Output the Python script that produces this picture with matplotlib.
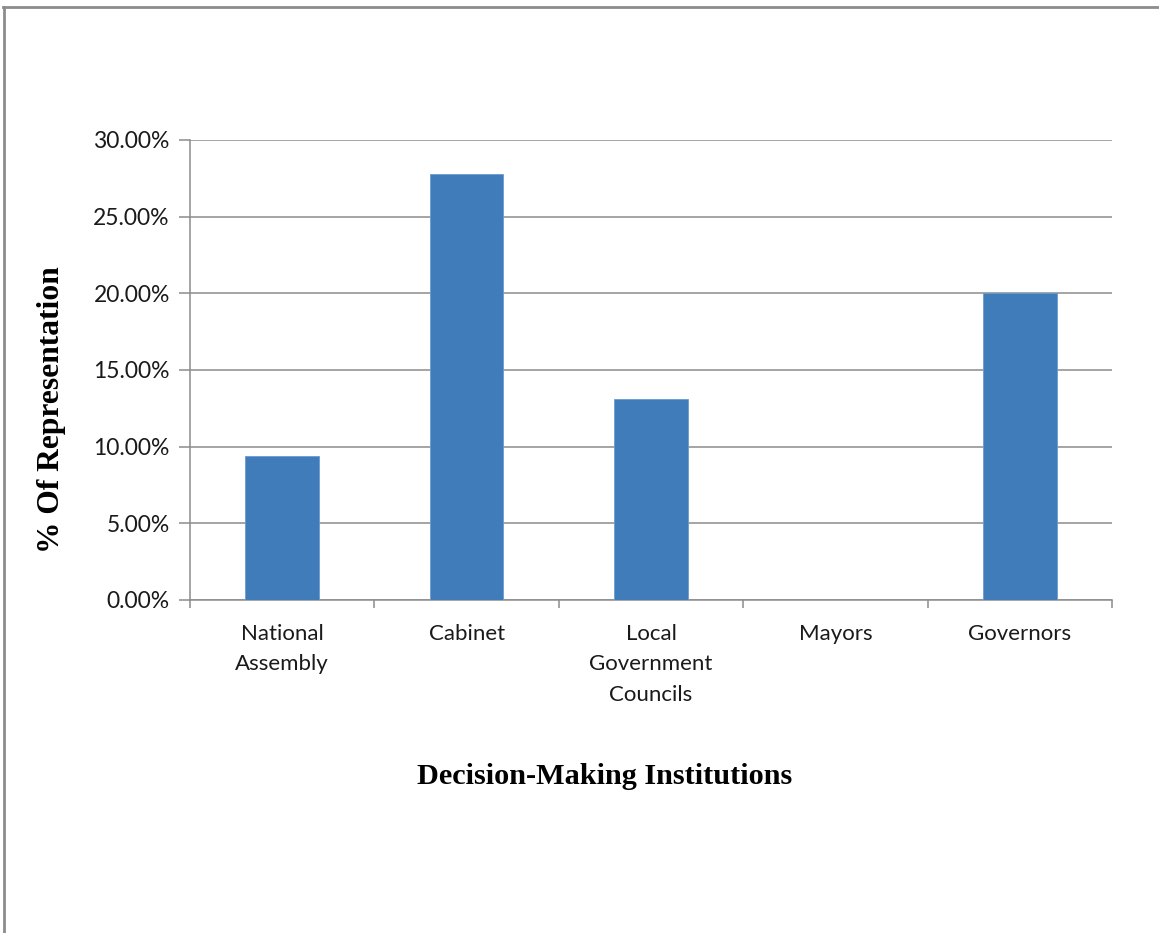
import matplotlib
matplotlib.use("Agg")
import matplotlib.pyplot as plt
from matplotlib.lines import Line2D
from matplotlib.ticker import FuncFormatter, FixedLocator

categories = ["National\nAssembly", "Cabinet", "Local\nGovernment\nCouncils", "Mayors", "Governors"]
values = [9.38, 27.8, 13.1, 0.0, 20.0]
yticks = [0, 5, 10, 15, 20, 25, 30]

W, H = 1159, 933
fig = plt.figure(figsize=(W / 100, H / 100), dpi=100)
ax = fig.add_axes([190 / W, 1 - 600 / H, (1112 - 190) / W, (600 - 140) / H])

x = list(range(len(categories)))
ax.bar(x, values, width=0.4, color="#417CBA", edgecolor="#6A9BD1", linewidth=0.6, zorder=3)

ax.set_xlim(-0.5, len(categories) - 0.5)
ax.set_ylim(0, 30)
ax.yaxis.set_major_locator(FixedLocator(yticks))
ax.yaxis.set_major_formatter(FuncFormatter(lambda v, p: f"{v:.2f}%"))
ax.grid(axis="y", color="#8C8C8C", linewidth=1.1, zorder=0)

ax.set_xticks(x)
ax.set_xticklabels(categories, fontfamily="Lato", fontsize=16, linespacing=1.68)
ax.set_xticks([i - 0.5 for i in range(len(categories) + 1)], minor=True)
ax.tick_params(axis="x", which="major", length=0, pad=17)
ax.tick_params(axis="x", which="minor", length=6, width=1.1, color="#8C8C8C", direction="out")
ax.tick_params(axis="y", length=8, width=1.1, color="#8C8C8C", direction="out", pad=6.5)
for lab in ax.get_yticklabels():
    lab.set_fontfamily("Lato")
    lab.set_fontsize(16.5)
    lab.set_color("#1a1a1a")
for lab in ax.get_xticklabels():
    lab.set_color("#1a1a1a")
    lab.set_verticalalignment("top")

for s in ["top", "right"]:
    ax.spines[s].set_visible(False)
for s in ["left", "bottom"]:
    ax.spines[s].set_color("#8C8C8C")
    ax.spines[s].set_linewidth(1.1)

fig.text(52 / W, 1 - 410 / H, "% Of Representation", rotation=90, ha="center", va="center",
         fontfamily="Liberation Serif", fontweight="bold", fontsize=22.7)
fig.text(605 / W, 1 - 776 / H, "Decision-Making Institutions", ha="center", va="center",
         fontfamily="Liberation Serif", fontweight="bold", fontsize=21.8)

fig.add_artist(Line2D([3 / W, 1], [1 - 7 / H, 1 - 7 / H], transform=fig.transFigure, color="#8C8C8C", linewidth=2))
fig.add_artist(Line2D([4 / W, 4 / W], [0, 1 - 7 / H], transform=fig.transFigure, color="#8C8C8C", linewidth=2))

fig.savefig("out.png", dpi=100)
